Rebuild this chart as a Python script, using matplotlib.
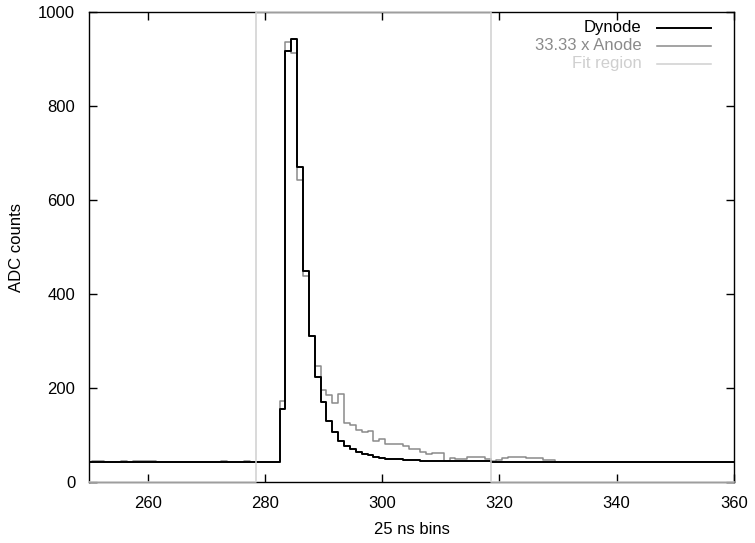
import numpy as np
import matplotlib
matplotlib.use("Agg")
import matplotlib.pyplot as plt

plt.rcParams['font.family'] = ['Liberation Sans', 'DejaVu Sans']

# bin numbers (25 ns each)
bins = np.arange(250, 361)

# dynode trace, ADC counts per bin
dynode_peak = [155, 917, 942, 670, 450, 310, 224, 170, 131, 107, 88, 77, 70,
               65, 60, 57, 54, 52, 50, 50, 50, 48, 48, 48,
               45, 45, 45, 45, 45, 45, 45, 45, 45, 45, 45, 45]   # bins 283..318
dynode = [43] * 33 + dynode_peak + [43] * 42

# anode trace scaled by 33.33
anode_pre = [43, 46, 46, 43, 43, 43, 46, 43, 46, 46, 46, 46, 43, 43, 43, 43,
             43, 43, 43, 43, 43, 43, 43, 46, 43, 43, 43, 46, 43, 43, 43, 43, 43]  # 250..282
anode_peak = [173, 936, 912, 643, 438, 310, 247, 196, 185, 169, 187, 125, 121,
              111, 107, 109, 88, 91, 82, 82, 82, 77, 70, 70, 65, 59, 61, 61,
              45, 52, 50, 50, 54, 54, 54, 50, 45, 47, 52, 54, 54, 54, 51, 51,
              51, 47, 47]   # 283..329
anode = anode_pre + anode_peak + [43] * 31

fit_first, fit_last = 279, 318
fit_height = 1000

xticks = [260, 280, 300, 320, 340, 360]
yticks = [0, 200, 400, 600, 800, 1000]

fit = np.where((bins >= fit_first) & (bins <= fit_last), fit_height, 0)

fig = plt.figure(figsize=(7.55, 5.43), dpi=100)
ax = fig.add_axes([0.118, 0.112, 0.854, 0.866])

ax.step(bins, anode, where='mid', color='#8a8a8a', lw=1.1, zorder=2)
ax.step(bins, dynode, where='mid', color='black', lw=1.4, zorder=2.2)
ax.step(bins, fit, where='mid', color='#cfcfcf', lw=1.1, zorder=3, clip_on=False)

ax.set_xlim(250, 360)
ax.set_ylim(0, 1000)
ax.set_xticks(xticks)
ax.set_yticks(yticks)
ax.tick_params(direction='in', length=6, width=1, top=True, right=True,
               labelsize=12, pad=10)
for s in ax.spines.values():
    s.set_linewidth(1.0)

ax.set_xlabel('25 ns bins', fontsize=12, labelpad=8)
ax.set_ylabel('ADC counts', fontsize=12, labelpad=10)

# key in the top right corner
rows = [('Dynode', 'black', 1.4), ('33.33 x Anode', '#8a8a8a', 1.1),
        ('Fit region', '#cfcfcf', 1.1)]
for i, (lab, col, lw) in enumerate(rows):
    yy = 0.966 - i * 0.038
    ax.text(0.857, yy, lab, color=col, fontsize=12, ha='right', va='center',
            transform=ax.transAxes)
    ax.plot([0.881, 0.964], [yy, yy], color=col, lw=lw, transform=ax.transAxes,
            clip_on=False)

fig.savefig('out.png', dpi=100)
